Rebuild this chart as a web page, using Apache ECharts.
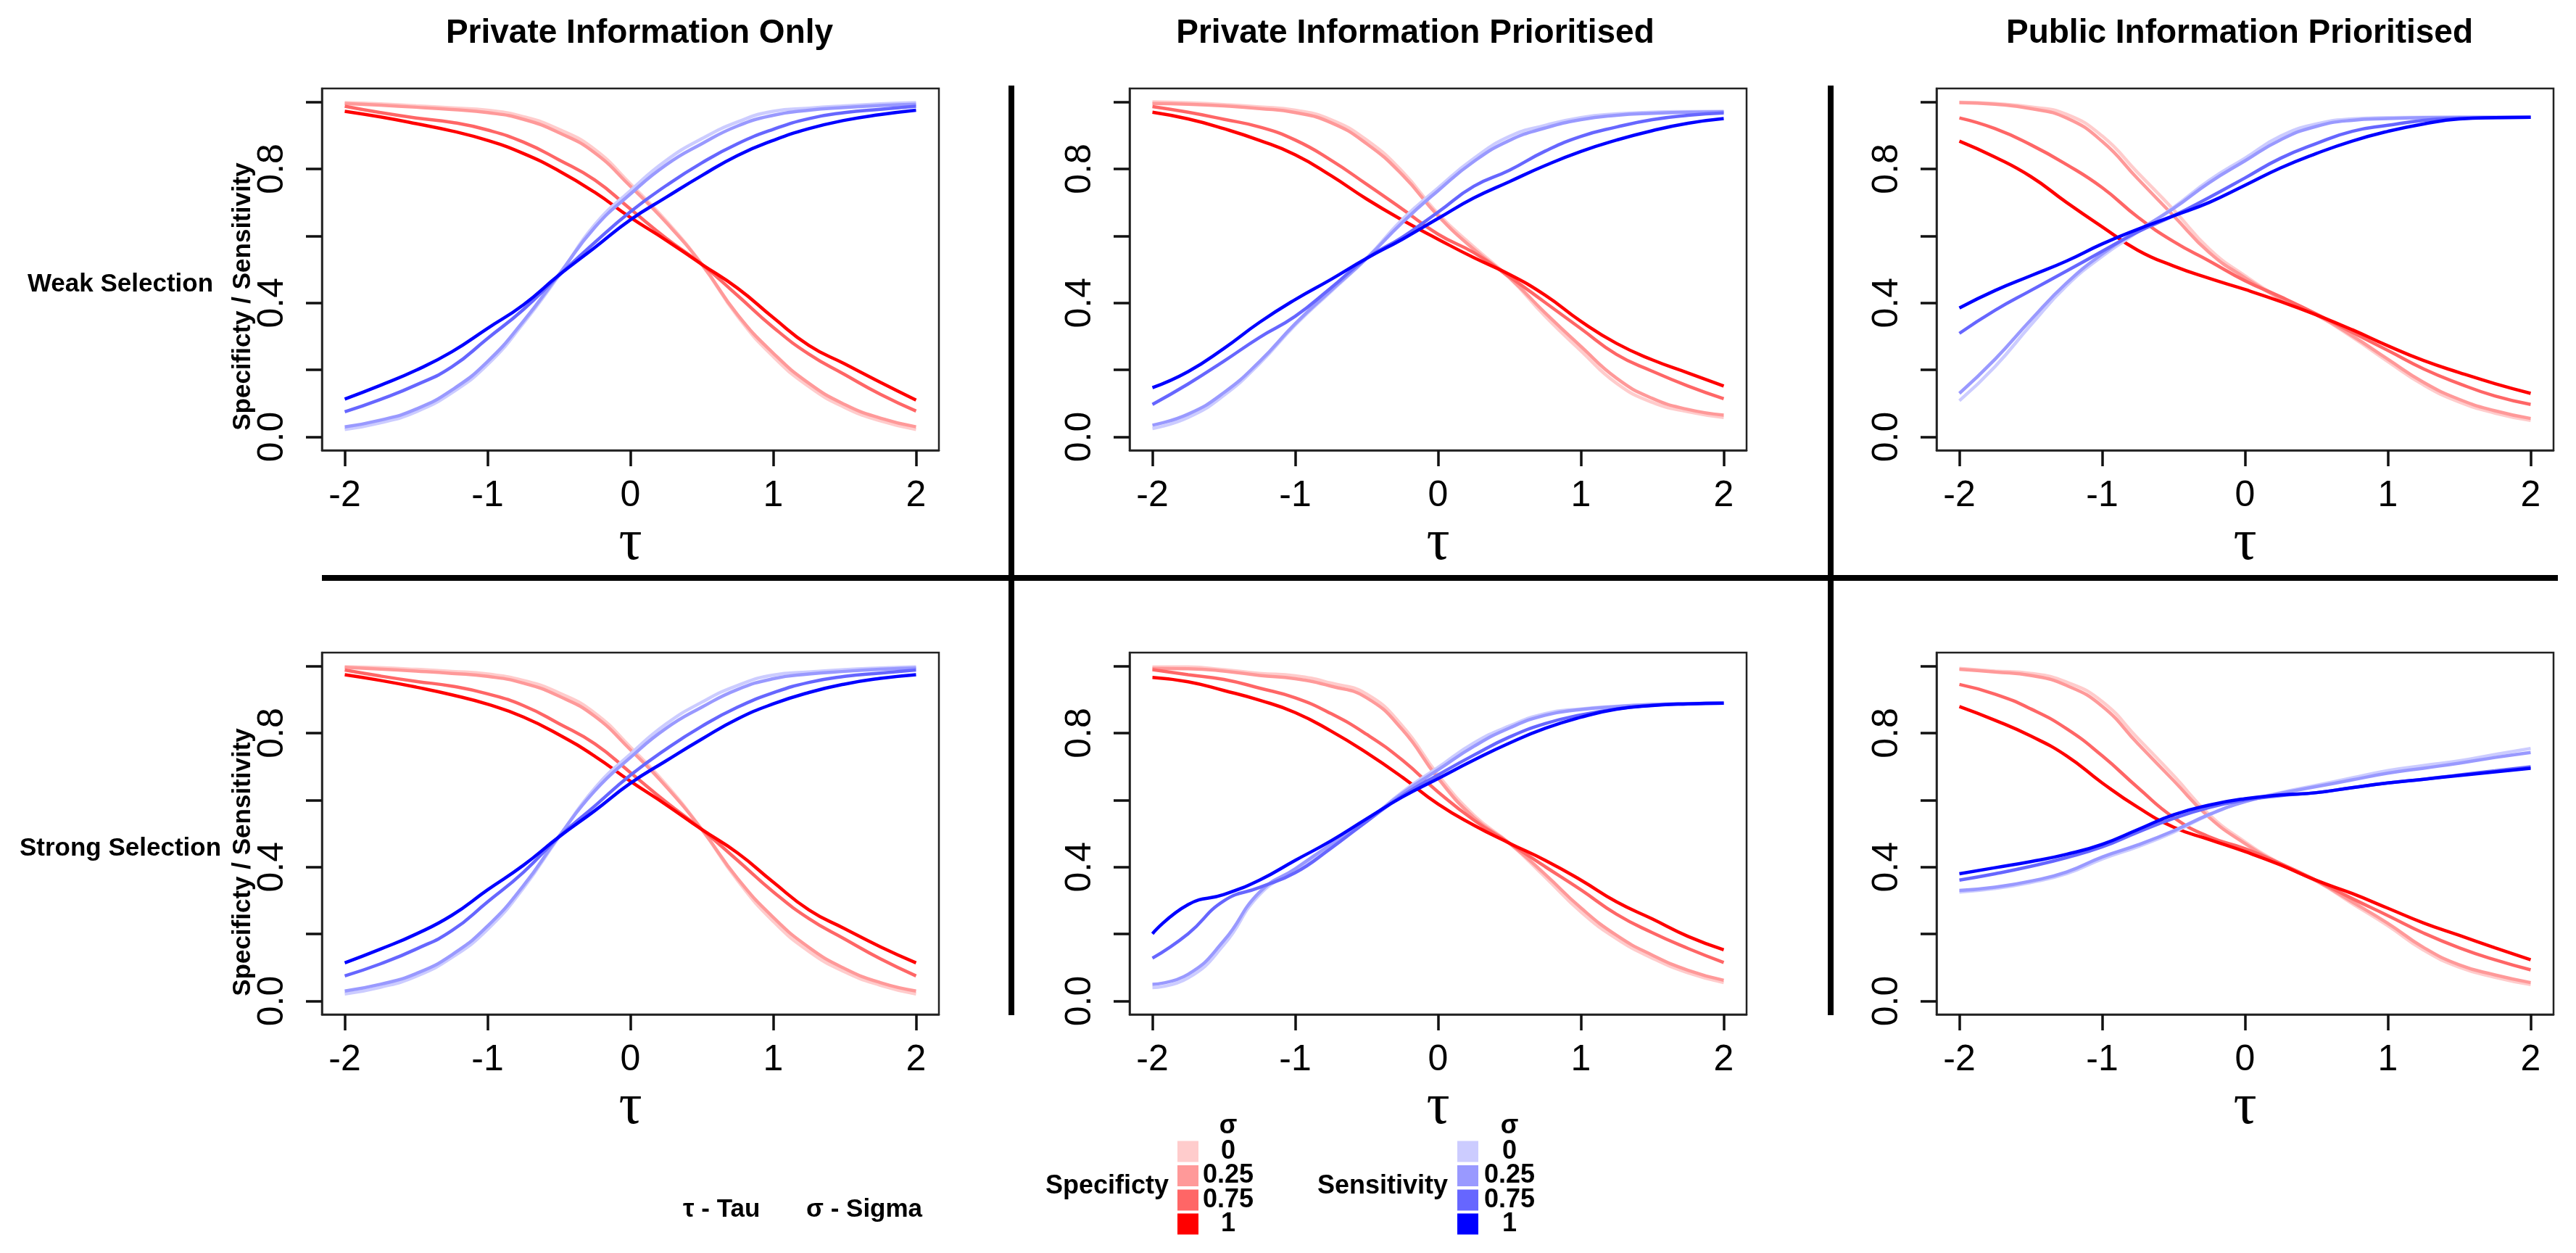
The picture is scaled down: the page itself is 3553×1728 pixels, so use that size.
<!DOCTYPE html>
<html>
<head>
<meta charset="utf-8">
<title>Specificity / Sensitivity vs tau</title>
<script src="https://cdn.jsdelivr.net/npm/echarts@6.0.0/dist/echarts.min.js"></script>
<style>
  html, body { margin: 0; padding: 0; background: #fff; }
  #chart { width: 3553px; height: 1728px; }
</style>
</head>
<body>
<div id="chart"></div>
<script>
// tau values (x axis), sigma levels
const tau = [-2, -1.75, -1.5, -1.25, -1, -0.75, -0.5, -0.25, 0, 0.25, 0.5, 0.75, 1, 1.25, 1.5, 1.75, 2];
const sigmaLevels = ['0', '0.25', '0.75', '1'];
const specColors = ['#FFCCCC', '#FF9999', '#FF6666', '#FF0000'];
const sensColors = ['#CCCCFF', '#9999FF', '#6666FF', '#0000FF'];

const columnTitles = ['Private Information Only', 'Private Information Prioritised', 'Public Information Prioritised'];
const rowTitles = ['Weak Selection', 'Strong Selection'];
const xTicks = [-2, -1, 0, 1, 2];
const yTicks = [0, 0.2, 0.4, 0.6, 0.8, 1];
const yLabels = [0, 0.4, 0.8];

// each array: rows are sigma 0, 0.25, 0.75, 1
// weak selection, private information only
const weakPrivOnlySpec = [
  [0.998, 0.994, 0.988, 0.982, 0.975, 0.956, 0.918, 0.858, 0.755, 0.645, 0.515, 0.36, 0.24, 0.15, 0.088, 0.048, 0.022],
  [0.995, 0.99, 0.984, 0.977, 0.968, 0.948, 0.908, 0.848, 0.748, 0.64, 0.515, 0.365, 0.25, 0.16, 0.097, 0.056, 0.03],
  [0.987, 0.968, 0.952, 0.939, 0.916, 0.88, 0.827, 0.767, 0.68, 0.593, 0.515, 0.422, 0.327, 0.247, 0.186, 0.127, 0.077],
  [0.972, 0.955, 0.935, 0.913, 0.885, 0.846, 0.794, 0.73, 0.655, 0.587, 0.515, 0.444, 0.356, 0.273, 0.218, 0.163, 0.11]
];
const weakPrivOnlySens = [
  [0.022, 0.042, 0.075, 0.132, 0.216, 0.339, 0.482, 0.633, 0.735, 0.825, 0.89, 0.94, 0.972, 0.981, 0.988, 0.994, 0.998],
  [0.03, 0.05, 0.083, 0.14, 0.225, 0.345, 0.485, 0.625, 0.725, 0.812, 0.875, 0.928, 0.96, 0.975, 0.983, 0.989, 0.993],
  [0.075, 0.112, 0.155, 0.209, 0.294, 0.38, 0.482, 0.58, 0.672, 0.75, 0.818, 0.875, 0.918, 0.95, 0.968, 0.978, 0.987],
  [0.113, 0.154, 0.199, 0.254, 0.324, 0.394, 0.483, 0.565, 0.648, 0.715, 0.78, 0.84, 0.885, 0.92, 0.945, 0.962, 0.975]
];
// weak selection, private information prioritised
const weakPrivPrioSpec = [
  [1.0, 0.997, 0.992, 0.985, 0.975, 0.947, 0.886, 0.792, 0.666, 0.567, 0.475, 0.36, 0.257, 0.16, 0.103, 0.075, 0.058],
  [0.995, 0.993, 0.988, 0.98, 0.968, 0.938, 0.875, 0.782, 0.66, 0.56, 0.475, 0.37, 0.27, 0.175, 0.115, 0.082, 0.065],
  [0.986, 0.969, 0.948, 0.925, 0.886, 0.826, 0.754, 0.68, 0.605, 0.55, 0.478, 0.401, 0.323, 0.246, 0.196, 0.152, 0.114],
  [0.969, 0.949, 0.92, 0.885, 0.842, 0.78, 0.71, 0.647, 0.59, 0.535, 0.485, 0.423, 0.345, 0.279, 0.23, 0.191, 0.152]
];
const weakPrivPrioSens = [
  [0.025, 0.058, 0.124, 0.219, 0.334, 0.434, 0.533, 0.649, 0.743, 0.831, 0.897, 0.93, 0.953, 0.964, 0.969, 0.971, 0.972],
  [0.035, 0.068, 0.132, 0.225, 0.338, 0.437, 0.533, 0.64, 0.735, 0.822, 0.885, 0.922, 0.947, 0.96, 0.966, 0.969, 0.97],
  [0.097, 0.158, 0.226, 0.297, 0.36, 0.445, 0.533, 0.596, 0.671, 0.748, 0.796, 0.853, 0.897, 0.925, 0.947, 0.96, 0.967],
  [0.147, 0.195, 0.264, 0.342, 0.41, 0.47, 0.533, 0.59, 0.652, 0.713, 0.762, 0.81, 0.852, 0.886, 0.914, 0.936, 0.95]
];
// weak selection, public information prioritised
const weakPubPrioSpec = [
  [0.999, 0.995, 0.985, 0.963, 0.898, 0.788, 0.678, 0.561, 0.481, 0.415, 0.364, 0.298, 0.225, 0.155, 0.104, 0.071, 0.049],
  [0.998, 0.993, 0.98, 0.952, 0.882, 0.77, 0.66, 0.55, 0.475, 0.412, 0.364, 0.302, 0.232, 0.163, 0.112, 0.078, 0.055],
  [0.952, 0.92, 0.872, 0.813, 0.744, 0.656, 0.583, 0.525, 0.466, 0.418, 0.367, 0.312, 0.258, 0.203, 0.159, 0.122, 0.097],
  [0.883, 0.835, 0.777, 0.7, 0.627, 0.557, 0.51, 0.473, 0.44, 0.404, 0.364, 0.32, 0.272, 0.228, 0.192, 0.159, 0.13]
];
const weakPubPrioSens = [
  [0.108, 0.21, 0.334, 0.451, 0.539, 0.612, 0.685, 0.766, 0.832, 0.898, 0.934, 0.949, 0.953, 0.954, 0.954, 0.954, 0.954],
  [0.13, 0.232, 0.349, 0.459, 0.546, 0.616, 0.682, 0.759, 0.824, 0.887, 0.927, 0.945, 0.95, 0.953, 0.954, 0.954, 0.954],
  [0.309, 0.378, 0.437, 0.495, 0.554, 0.612, 0.66, 0.715, 0.773, 0.832, 0.876, 0.912, 0.93, 0.945, 0.951, 0.953, 0.954],
  [0.385, 0.437, 0.481, 0.525, 0.576, 0.62, 0.66, 0.7, 0.751, 0.803, 0.846, 0.883, 0.912, 0.934, 0.949, 0.953, 0.954]
];
// strong selection, private information only
const strongPrivOnlySpec = [
  [0.998, 0.995, 0.99, 0.984, 0.976, 0.957, 0.92, 0.86, 0.758, 0.646, 0.512, 0.36, 0.238, 0.148, 0.087, 0.047, 0.021],
  [0.996, 0.991, 0.985, 0.978, 0.969, 0.949, 0.91, 0.85, 0.75, 0.64, 0.512, 0.366, 0.25, 0.16, 0.097, 0.055, 0.03],
  [0.988, 0.97, 0.954, 0.94, 0.917, 0.882, 0.828, 0.768, 0.682, 0.594, 0.512, 0.42, 0.326, 0.246, 0.185, 0.126, 0.075],
  [0.974, 0.957, 0.937, 0.914, 0.886, 0.848, 0.795, 0.731, 0.656, 0.586, 0.512, 0.442, 0.355, 0.272, 0.216, 0.162, 0.114]
];
const strongPrivOnlySens = [
  [0.021, 0.041, 0.074, 0.13, 0.214, 0.337, 0.49, 0.635, 0.737, 0.827, 0.892, 0.942, 0.973, 0.982, 0.989, 0.994, 0.998],
  [0.03, 0.05, 0.082, 0.138, 0.224, 0.344, 0.492, 0.627, 0.727, 0.814, 0.877, 0.93, 0.962, 0.976, 0.984, 0.99, 0.994],
  [0.075, 0.111, 0.155, 0.21, 0.296, 0.384, 0.49, 0.582, 0.674, 0.752, 0.82, 0.877, 0.92, 0.951, 0.969, 0.979, 0.988],
  [0.114, 0.155, 0.2, 0.256, 0.332, 0.405, 0.49, 0.568, 0.65, 0.717, 0.782, 0.842, 0.887, 0.921, 0.946, 0.963, 0.974]
];
// strong selection, private information prioritised
const strongPrivPrioSpec = [
  [0.997, 0.997, 0.989, 0.978, 0.971, 0.949, 0.916, 0.821, 0.675, 0.555, 0.471, 0.37, 0.266, 0.186, 0.128, 0.084, 0.055],
  [0.993, 0.992, 0.985, 0.972, 0.962, 0.94, 0.905, 0.81, 0.665, 0.548, 0.471, 0.378, 0.278, 0.196, 0.137, 0.092, 0.062],
  [0.989, 0.974, 0.96, 0.934, 0.905, 0.858, 0.796, 0.719, 0.624, 0.54, 0.471, 0.401, 0.332, 0.259, 0.204, 0.157, 0.115],
  [0.966, 0.953, 0.927, 0.898, 0.861, 0.806, 0.741, 0.668, 0.588, 0.525, 0.471, 0.42, 0.361, 0.296, 0.245, 0.193, 0.153]
];
const strongPrivPrioSens = [
  [0.04, 0.069, 0.168, 0.318, 0.391, 0.464, 0.536, 0.624, 0.697, 0.77, 0.821, 0.858, 0.872, 0.88, 0.885, 0.888, 0.889],
  [0.05, 0.08, 0.18, 0.325, 0.395, 0.468, 0.538, 0.62, 0.69, 0.76, 0.815, 0.853, 0.87, 0.879, 0.885, 0.888, 0.889],
  [0.128, 0.201, 0.299, 0.339, 0.383, 0.456, 0.536, 0.613, 0.675, 0.734, 0.788, 0.828, 0.854, 0.872, 0.883, 0.887, 0.889],
  [0.201, 0.288, 0.318, 0.361, 0.42, 0.478, 0.544, 0.609, 0.664, 0.719, 0.77, 0.814, 0.847, 0.871, 0.882, 0.887, 0.889]
];
// strong selection, public information prioritised
const strongPubPrioSpec = [
  [0.993, 0.985, 0.978, 0.952, 0.894, 0.784, 0.673, 0.556, 0.475, 0.41, 0.358, 0.291, 0.225, 0.152, 0.101, 0.071, 0.049],
  [0.99, 0.982, 0.972, 0.942, 0.88, 0.768, 0.658, 0.548, 0.47, 0.408, 0.358, 0.296, 0.232, 0.16, 0.108, 0.078, 0.055],
  [0.945, 0.916, 0.872, 0.813, 0.732, 0.637, 0.548, 0.49, 0.455, 0.41, 0.36, 0.306, 0.255, 0.203, 0.159, 0.123, 0.093],
  [0.879, 0.838, 0.791, 0.732, 0.651, 0.578, 0.519, 0.482, 0.446, 0.406, 0.36, 0.321, 0.277, 0.233, 0.196, 0.159, 0.123]
];
const strongPubPrioSens = [
  [0.325, 0.336, 0.354, 0.38, 0.424, 0.461, 0.504, 0.556, 0.596, 0.622, 0.644, 0.666, 0.688, 0.703, 0.717, 0.736, 0.754],
  [0.33, 0.34, 0.358, 0.385, 0.43, 0.466, 0.508, 0.557, 0.595, 0.62, 0.64, 0.66, 0.68, 0.695, 0.71, 0.727, 0.742],
  [0.361, 0.38, 0.402, 0.428, 0.46, 0.504, 0.545, 0.578, 0.6, 0.613, 0.622, 0.637, 0.651, 0.662, 0.675, 0.687, 0.699],
  [0.38, 0.398, 0.416, 0.438, 0.468, 0.512, 0.556, 0.585, 0.604, 0.615, 0.622, 0.637, 0.651, 0.662, 0.673, 0.684, 0.695]
];

const panels = [
  [weakPrivOnlySpec, weakPrivOnlySens],
  [weakPrivPrioSpec, weakPrivPrioSens],
  [weakPubPrioSpec, weakPubPrioSens],
  [strongPrivOnlySpec, strongPrivOnlySens],
  [strongPrivPrioSpec, strongPrivPrioSens],
  [strongPubPrioSpec, strongPubPrioSens]
];

// layout (px)
const colLeft = [444, 1558, 2671];
const rowTop = [122, 900];
const boxW = 851, boxH = 499;
const titleX = [882, 1952, 3089];
const SANS = '"Liberation Sans", Arial, sans-serif';
const SERIF = '"Liberation Serif", "Times New Roman", serif';

const grids = [], xAxes = [], yAxes = [], series = [];
panels.forEach((p, i) => {
  const r = Math.floor(i / 3), c = i % 3;
  grids.push({
    left: colLeft[c], top: rowTop[r], width: boxW, height: boxH,
    show: true, borderColor: '#222', borderWidth: 2.5, backgroundColor: 'transparent',
    outerBoundsMode: 'none'
  });
  xAxes.push({
    type: 'value', gridIndex: i, min: -2.16, max: 2.16, position: 'bottom',
    axisLine: { show: true, onZero: false, lineStyle: { color: '#222', width: 2.5 } },
    splitLine: { show: false },
    axisTick: { show: true, length: 22, customValues: xTicks, lineStyle: { color: '#111', width: 3.5 } },
    axisLabel: {
      customValues: xTicks, fontSize: 50, color: '#000', margin: 63, fontFamily: SANS,
      verticalAlign: 'middle', align: 'center', formatter: v => String(v)
    },
    name: 'τ', nameLocation: 'middle', nameGap: 113,
    nameTextStyle: { fontFamily: SERIF, fontSize: 80, color: '#000', verticalAlign: 'middle', align: 'center' }
  });
  yAxes.push({
    type: 'value', gridIndex: i, min: -0.04, max: 1.04, position: 'left',
    axisLine: { show: true, onZero: false, lineStyle: { color: '#222', width: 2.5 } },
    splitLine: { show: false },
    axisTick: { show: true, length: 22, customValues: yTicks, lineStyle: { color: '#111', width: 3.5 } },
    axisLabel: {
      customValues: yLabels, rotate: 90, fontSize: 50, color: '#000', margin: 68, fontFamily: SANS,
      verticalAlign: 'middle', align: 'center', formatter: v => v.toFixed(1)
    }
  });
  [[p[0], specColors], [p[1], sensColors]].forEach(([rows, cols]) => {
    rows.forEach((vals, k) => {
      series.push({
        type: 'line', xAxisIndex: i, yAxisIndex: i,
        name: 'sigma ' + sigmaLevels[k],
        data: tau.map((t, j) => [t, vals[j]]),
        showSymbol: false, smooth: 0.5, silent: true,
        lineStyle: { width: 4.5, color: cols[k] }
      });
    });
  });
});

// text, dividers and legend
const graphic = [];
columnTitles.forEach((t, c) => graphic.push({
  type: 'text', x: titleX[c], y: 46,
  style: { text: t, font: 'bold 46px ' + SANS, fill: '#000', textAlign: 'center', textVerticalAlign: 'middle' }
}));
rowTitles.forEach((t, r) => {
  graphic.push({
    type: 'text', x: 166, y: [392, 1170][r],
    style: { text: t, font: 'bold 35px ' + SANS, fill: '#000', textAlign: 'center', textVerticalAlign: 'middle' }
  });
  graphic.push({
    type: 'text', x: 335, y: [409, 1189][r], rotation: Math.PI / 2,
    style: { text: 'Specificty / Sensitivity', font: 'bold 35px ' + SANS, fill: '#000', textAlign: 'center', textVerticalAlign: 'middle' }
  });
});
[1395, 2525].forEach(x => graphic.push({
  type: 'line', shape: { x1: x, y1: 118, x2: x, y2: 1400 }, style: { stroke: '#000', lineWidth: 8 }
}));
graphic.push({ type: 'line', shape: { x1: 444, y1: 797, x2: 3528, y2: 797 }, style: { stroke: '#000', lineWidth: 8 } });

graphic.push({
  type: 'text', x: 942, y: 1668,
  style: { text: 'τ - Tau', font: 'bold 35px ' + SANS, fill: '#000', textAlign: 'left', textVerticalAlign: 'middle' }
});
graphic.push({
  type: 'text', x: 1112, y: 1668,
  style: { text: 'σ - Sigma', font: 'bold 35px ' + SANS, fill: '#000', textAlign: 'left', textVerticalAlign: 'middle' }
});

const legendBlocks = [
  { title: 'Specificty', colors: specColors, titleRight: 1612, boxX: 1624, labelX: 1694 },
  { title: 'Sensitivity', colors: sensColors, titleRight: 1997, boxX: 2010, labelX: 2082 }
];
const legendRowY = [1588, 1621.5, 1655, 1688];
legendBlocks.forEach(b => {
  graphic.push({
    type: 'text', x: b.titleRight, y: 1636,
    style: { text: b.title, font: 'bold 36px ' + SANS, fill: '#000', textAlign: 'right', textVerticalAlign: 'middle' }
  });
  graphic.push({
    type: 'text', x: b.labelX, y: 1553,
    style: { text: 'σ', font: 'bold 36px ' + SANS, fill: '#000', textAlign: 'center', textVerticalAlign: 'middle' }
  });
  sigmaLevels.forEach((s, k) => {
    graphic.push({
      type: 'rect', shape: { x: b.boxX, y: legendRowY[k] - 14.5, width: 29, height: 29 },
      style: { fill: b.colors[k] }
    });
    graphic.push({
      type: 'text', x: b.labelX, y: legendRowY[k],
      style: { text: s, font: 'bold 36px ' + SANS, fill: '#000', textAlign: 'center', textVerticalAlign: 'middle' }
    });
  });
});

const chart = echarts.init(document.getElementById('chart'), null, { renderer: 'canvas' });
chart.setOption({
  backgroundColor: '#fff',
  animation: false,
  grid: grids,
  xAxis: xAxes,
  yAxis: yAxes,
  series: series,
  graphic: graphic
});
</script>
</body>
</html>
